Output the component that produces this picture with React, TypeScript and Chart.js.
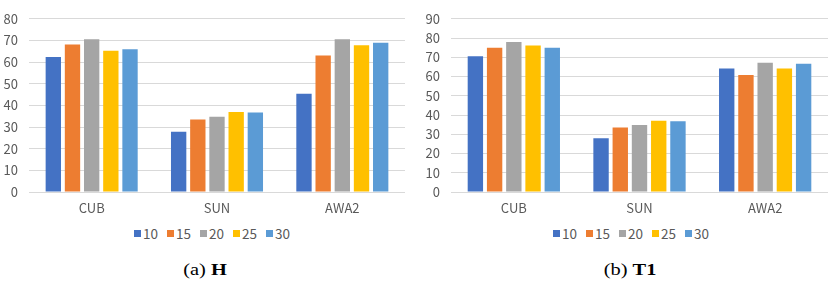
import React, { useEffect, useRef } from "react";
import { Chart, registerables } from "chart.js";

Chart.register(...registerables);

const categories = ["CUB", "SUN", "AWA2"];
const seriesLabels = ["10", "15", "20", "25", "30"];
const seriesColors = ["#4472C4", "#ED7D31", "#A5A5A5", "#FFC000", "#5B9BD5"];

const hS10 = [62.3, 27.8, 45.4];
const hS15 = [68.1, 33.5, 63.1];
const hS20 = [70.5, 34.7, 70.6];
const hS25 = [65.2, 36.9, 67.8];
const hS30 = [65.9, 36.7, 68.9];

const t1S10 = [70.5, 27.9, 64.2];
const t1S15 = [75.0, 33.5, 60.8];
const t1S20 = [77.9, 34.8, 67.2];
const t1S25 = [76.1, 37.0, 64.2];
const t1S30 = [75.0, 36.7, 66.7];

const hMax = 80;
const t1Max = 90;

const FONT = "'Noto Sans CJK SC', 'Noto Sans', sans-serif";
const TEXT = "#595959";

type PanelProps = {
  series: number[][];
  yMax: number;
  yWidth: number;
  padRight: number;
  width: number;
};

function Panel({ series, yMax, yWidth, padRight, width }: PanelProps) {
  const ref = useRef<HTMLCanvasElement | null>(null);
  useEffect(() => {
    if (!ref.current) return;
    const chart = new Chart(ref.current, {
      type: "bar",
      data: {
        labels: categories,
        datasets: series.map((d, i) => ({
          label: seriesLabels[i],
          data: d,
          backgroundColor: seriesColors[i],
          borderWidth: 0,
          categoryPercentage: 0.765,
          barPercentage: 0.8,
        })),
      },
      options: {
        animation: false,
        responsive: false,
        maintainAspectRatio: false,
        devicePixelRatio: 1,
        layout: { padding: { top: 10, right: padRight, left: 0, bottom: 0 } },
        plugins: {
          tooltip: { enabled: false },
          legend: { display: false },
        },
        scales: {
          x: {
            grid: { display: false, drawTicks: false },
            border: { display: false },
            ticks: { color: TEXT, font: { family: FONT, size: 13 }, padding: 8 },
            afterFit: (s: any) => {
              s.height = 24;
            },
          },
          y: {
            min: 0,
            max: yMax,
            ticks: {
              stepSize: 10,
              color: TEXT,
              font: { family: FONT, size: 13 },
              padding: 11,
            },
            grid: { color: "#D9D9D9", drawTicks: false, lineWidth: 1 },
            border: { display: false },
            afterFit: (s: any) => {
              s.width = yWidth;
            },
          },
        },
      },
    });
    return () => chart.destroy();
  }, []);
  return <canvas ref={ref} width={width} height={216} style={{ display: "block" }} />;
}

function Legend({ center }: { center: number }) {
  return (
    <div
      style={{
        position: "absolute",
        top: 226,
        left: center - 150,
        width: 300,
        display: "flex",
        justifyContent: "center",
        alignItems: "center",
        fontFamily: FONT,
        fontSize: 13.5,
        lineHeight: "14px",
        color: TEXT,
      }}
    >
      {seriesLabels.map((l, i) => (
        <span key={l} style={{ display: "flex", alignItems: "center", marginRight: i < seriesLabels.length - 1 ? 9 : 0 }}>
          <span style={{ display: "inline-block", width: 7, height: 7, background: seriesColors[i], marginRight: 2 }} />
          <span>{l}</span>
        </span>
      ))}
    </div>
  );
}

function Caption({ center, tag, name }: { center: number; tag: string; name: string }) {
  return (
    <div
      style={{
        position: "absolute",
        top: 261,
        left: center - 60,
        width: 120,
        textAlign: "center",
        fontFamily: "'Liberation Serif', 'Times New Roman', serif",
        fontSize: 17,
        lineHeight: "17px",
        color: "#000",
        whiteSpace: "nowrap",
        transform: "scaleX(1.2)",
        transformOrigin: "center",
      }}
    >
      {tag} <b>{name}</b>
    </div>
  );
}

export default function App() {
  return (
    <div style={{ position: "absolute", left: 0, top: 0, width: 831, height: 282, background: "#fff" }}>
      <div style={{ position: "absolute", left: 0, top: 0 }}>
        <Panel series={[hS10, hS15, hS20, hS25, hS30]} yMax={hMax} yWidth={29} padRight={10} width={415} />
      </div>
      <div style={{ position: "absolute", left: 415, top: 0 }}>
        <Panel series={[t1S10, t1S15, t1S20, t1S25, t1S30]} yMax={t1Max} yWidth={36} padRight={3} width={416} />
      </div>
      <Legend center={212} />
      <Legend center={631} />
      <Caption center={205} tag="(a)" name="H" />
      <Caption center={630} tag="(b)" name="T1" />
    </div>
  );
}
